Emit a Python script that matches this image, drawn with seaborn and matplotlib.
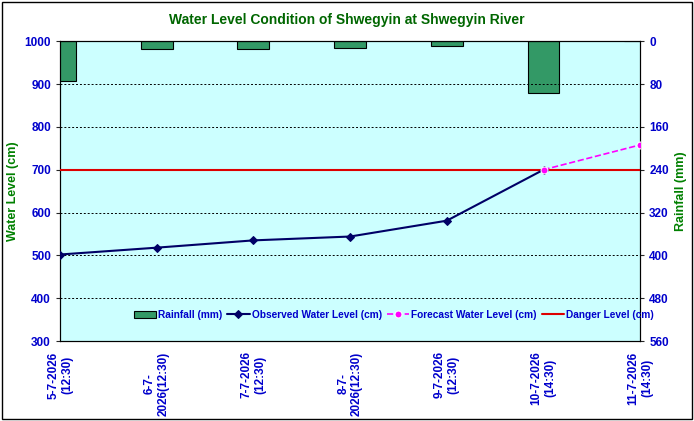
import matplotlib
matplotlib.use("Agg")
import matplotlib.pyplot as plt
import seaborn as sns
import pandas as pd

sns.set_style("white")
plt.rcParams["font.family"] = ["Liberation Sans", "DejaVu Sans"]

labels = ["5-7-2026\n(12:30)", "6-7-\n2026(12:30)", "7-7-2026\n(12:30)", "8-7-\n2026(12:30)",
          "9-7-2026\n(12:30)", "10-7-2026\n(14:30)", "11-7-2026\n(14:30)"]
rainfall = [75, 15, 15, 13, 9, 97, 0]
observed = [502, 518, 535, 544, 581, 700]
forecast = [700, 758]
danger = 700

fig = plt.figure(figsize=(6.94, 4.21), dpi=100)
ax = fig.add_axes([0.0865, 0.19, 0.836, 0.712])
x = list(range(len(labels)))

ax2 = ax.twinx()
df = pd.DataFrame({"x": x, "rain": rainfall})
ax2.bar(df["x"], df["rain"], width=0.33, color="#339966", edgecolor="black", linewidth=0.8,
        label="Rainfall (mm)")
ax2.set_ylim(560, 0)
ax2.set_yticks(range(0, 561, 80))

for y in range(400, 1001, 100):
    ax.axhline(y, color="black", linestyle=(0, (2, 2)), linewidth=0.7, zorder=0)
sns.lineplot(x=x[:6], y=observed, ax=ax, color="#000066", marker="D", markersize=4,
             markeredgecolor="#000066", linewidth=1.5, label="Observed Water Level (cm)", zorder=5)
sns.lineplot(x=x[5:], y=forecast, ax=ax, color="#ff00ff", marker="o", markersize=5,
             linestyle="--", linewidth=1.2, label="Forecast Water Level (cm)", zorder=5)
ax.axhline(danger, color="#dd0000", linewidth=1.5, label="Danger Level (cm)", zorder=4)
ax.set_ylim(300, 1000)
ax.set_xlim(0, 6)
ax.set_xticks(x)
ax.set_xticklabels(labels, rotation=90, color="#0000cc", fontsize=8.5, fontweight="bold")
ax.set_yticks(range(300, 1001, 100))
for a in (ax, ax2):
    a.tick_params(axis="y", labelsize=8.5, labelcolor="#0000cc", length=3, direction="out")
    for t in a.get_yticklabels():
        t.set_fontweight("bold")
    for s in a.spines.values():
        s.set_color("black")
ax.tick_params(axis="x", length=4, direction="out")
ax.patch.set_visible(False)
ax2.patch.set_visible(True)
ax2.patch.set_facecolor("#ccffff")
ax2.set_zorder(0)
ax.set_zorder(1)

ax.set_ylabel("Water Level (cm)", color="#008000", fontsize=9, fontweight="bold")
ax2.set_ylabel("Rainfall (mm)", color="#008000", fontsize=9, fontweight="bold")
fig.suptitle("Water Level Condition of Shwegyin at Shwegyin River", y=0.97,
             color="#006600", fontsize=10, fontweight="bold")

h1, l1 = ax2.get_legend_handles_labels()
h2, l2 = ax.get_legend_handles_labels()
ax.legend(h1 + h2, l1 + l2, loc="lower center", bbox_to_anchor=(0.575, 0.04), ncol=4,
          frameon=False, handlelength=2.2, columnspacing=0.5, handletextpad=0.2,
          labelcolor="#0000cc", prop={"weight": "bold", "size": 7.3})
fig.patches.append(plt.Rectangle((0.003, 0.005), 0.994, 0.99, transform=fig.transFigure,
                                 fill=False, edgecolor="black", linewidth=1))
fig.savefig("out.png", dpi=100)
